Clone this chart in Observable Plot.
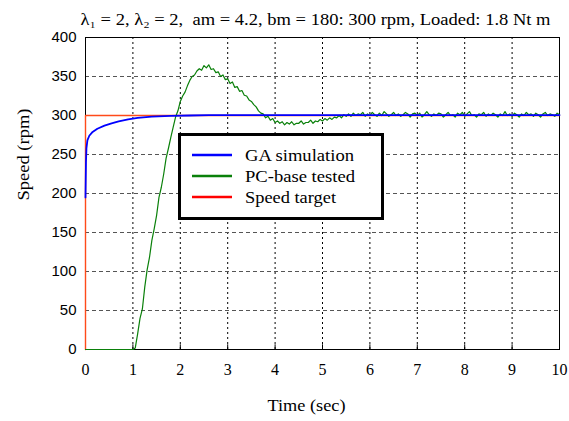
<!DOCTYPE html>
<html>
<head>
<meta charset="utf-8">
<script src="https://cdn.jsdelivr.net/npm/d3@7"></script>
<script src="https://cdn.jsdelivr.net/npm/@observablehq/plot@0.6"></script>
<style>
  html, body { margin: 0; padding: 0; background: #fff; }
</style>
</head>
<body>
<div id="chart"></div>
<script>
// ---- data ----
const titleText = "λ\u2081 = 2, λ\u2082 = 2,  am = 4.2, bm = 180: 300 rpm, Loaded: 1.8 Nt m";
const xLabel = "Time (sec)";
const yLabel = "Speed (rpm)";
const xTicks = [0, 1, 2, 3, 4, 5, 6, 7, 8, 9, 10];
const yTicks = [0, 50, 100, 150, 200, 250, 300, 350, 400];
const seriesNames = ["GA simulation", "PC-base tested", "Speed target"];
const seriesColors = ["#0000ff", "#0a800a", "#ff0000"];

// Speed target
const targetT = [0, 0, 10];
const targetV = [0, 300, 300];

// GA simulation
const gaT = [0, 0.01, 0.02, 0.04, 0.08, 0.15, 0.25, 0.4, 0.55, 0.7, 0.9, 1.1, 1.4, 1.8, 2.2, 2.6, 10];
const gaV = [195, 240, 258, 268, 274, 279, 283, 287, 290, 292.5, 295, 297, 298.5, 299.5, 300, 300.5, 300.5];

// PC-base tested: flat 0 until 1.0 s, then samples every 0.05 s from 1.0 s
const pcStart = 1.0, pcStep = 0.05;
const pcV = [
  0, 2, 20, 40, 52, 80, 102, 118, 140, 155,
  172, 195, 208, 225, 245, 258, 272, 285, 298, 306,
  318, 325, 330, 338, 345, 350, 352, 357, 360, 358,
  364, 361, 365, 359, 360, 355, 356, 350, 352, 346,
  347, 341, 343, 336, 337, 331, 332, 326, 325, 320,
  318, 314, 311, 306, 303, 302, 297, 299, 294, 296,
  291, 293, 290, 292, 288, 291, 289, 292, 288, 290,
  290, 293, 289, 291, 291, 294, 290, 293, 292, 295,
  293, 296, 294, 297, 295, 298, 297, 300, 297, 301,
  299, 302, 299, 303, 300, 302, 301, 304, 299,
  302, 300, 304, 301, 299, 303, 300, 305, 302, 299,
  301, 304, 300, 302, 299, 301, 304, 302, 298, 302,
  303, 300, 303, 298, 301, 305, 301, 299, 302, 300,
  303, 302, 298, 301, 304, 300, 301, 298, 303, 301,
  304, 299, 302, 305, 300, 301, 298, 302, 301, 304,
  299, 302, 300, 303, 301, 298, 302, 300, 305, 300,
  302, 299, 303, 301, 298, 302, 300, 304, 301, 302,
  299, 303, 301, 298, 302, 304, 300, 302, 301, 299,
  303, 301
];

// ---- build tables ----
const target = targetT.map((t, i) => ({t, v: targetV[i]}));
const ga = gaT.map((t, i) => ({t, v: gaV[i]}));
const pc = [{t: 0, v: 0}].concat(pcV.map((v, i) => ({t: pcStart + i * pcStep, v})))
  .filter(d => d.t <= 10.0001);

const serif = "Liberation Serif";
const sans = "Liberation Sans";

const chart = Plot.plot({
  width: 569, height: 421,
  marginTop: 37, marginLeft: 85, marginRight: 10, marginBottom: 72,
  style: {background: "#fff", overflow: "visible"},
  x: {domain: [0, 10]},
  y: {domain: [0, 400]},
  marks: [
    Plot.gridX(xTicks.slice(1, -1), {stroke: "#000", strokeOpacity: 1, strokeDasharray: "2,3"}),
    Plot.gridY(yTicks.slice(1, -1), {stroke: "#555", strokeOpacity: 1, strokeDasharray: "4,3"}),
    Plot.frame({stroke: "#000"}),
    Plot.ruleX(xTicks, {x: d => d, y1: 0, y2: 6, stroke: "#000"}),
    Plot.line(target, {x: "t", y: "v", stroke: "#ff4a1a", strokeWidth: 1.4}),
    Plot.line(pc, {x: "t", y: "v", stroke: seriesColors[1], strokeWidth: 1.2}),
    Plot.line(ga, {x: "t", y: "v", stroke: seriesColors[0], strokeWidth: 1.8}),
    Plot.axisX(xTicks, {tickSize: 0, tickPadding: 14, fontSize: 16, label: null}),
    Plot.axisY(yTicks, {tickSize: 0, tickPadding: 9, fontSize: 15, label: null}),
    Plot.text([titleText], {frameAnchor: "top", dx: -7, dy: -24, fontSize: 16, text: d => d}),
    Plot.text([xLabel], {frameAnchor: "bottom", dx: -16, dy: 61, fontSize: 16, text: d => d}),
    Plot.text([yLabel], {frameAnchor: "left", dx: -62, dy: 7, rotate: -90, fontSize: 16, text: d => d})
  ]
});
document.getElementById("chart").appendChild(chart);
const svg = d3.select(chart);
// serif everywhere except y tick labels
svg.selectAll("text").attr("font-family", serif);
svg.selectAll('g[aria-label="y-axis tick label"] text').attr("font-family", sans);
// stretch title like the reference
svg.selectAll("text").filter(function() { return this.textContent === titleText; })
  .attr("textLength", 470).attr("lengthAdjust", "spacingAndGlyphs");
svg.selectAll("text").filter(function() { return this.textContent === xLabel; })
  .attr("textLength", 78).attr("lengthAdjust", "spacingAndGlyphs");
svg.selectAll("text").filter(function() { return this.textContent === yLabel; })
  .attr("textLength", 92).attr("lengthAdjust", "spacingAndGlyphs");

// legend (inside the svg)
const lg = svg.append("g").attr("class", "legend");
lg.append("rect").attr("x", 179.5).attr("y", 134.5).attr("width", 203).attr("height", 84)
  .attr("fill", "#fff").attr("stroke", "#000").attr("stroke-width", 3);
const legLens = [109, 110, 91];
seriesNames.forEach((name, i) => {
  const cy = 155 + i * 21;
  lg.append("line").attr("x1", 192).attr("x2", 232).attr("y1", cy).attr("y2", cy)
    .attr("stroke", seriesColors[i]).attr("stroke-width", 2.5);
  lg.append("text").attr("x", 245).attr("y", cy + 5.5)
    .attr("font-family", serif).attr("font-size", 16).attr("text-anchor", "start")
    .attr("textLength", legLens[i]).attr("lengthAdjust", "spacingAndGlyphs")
    .text(name);
});
</script>
</body>
</html>
